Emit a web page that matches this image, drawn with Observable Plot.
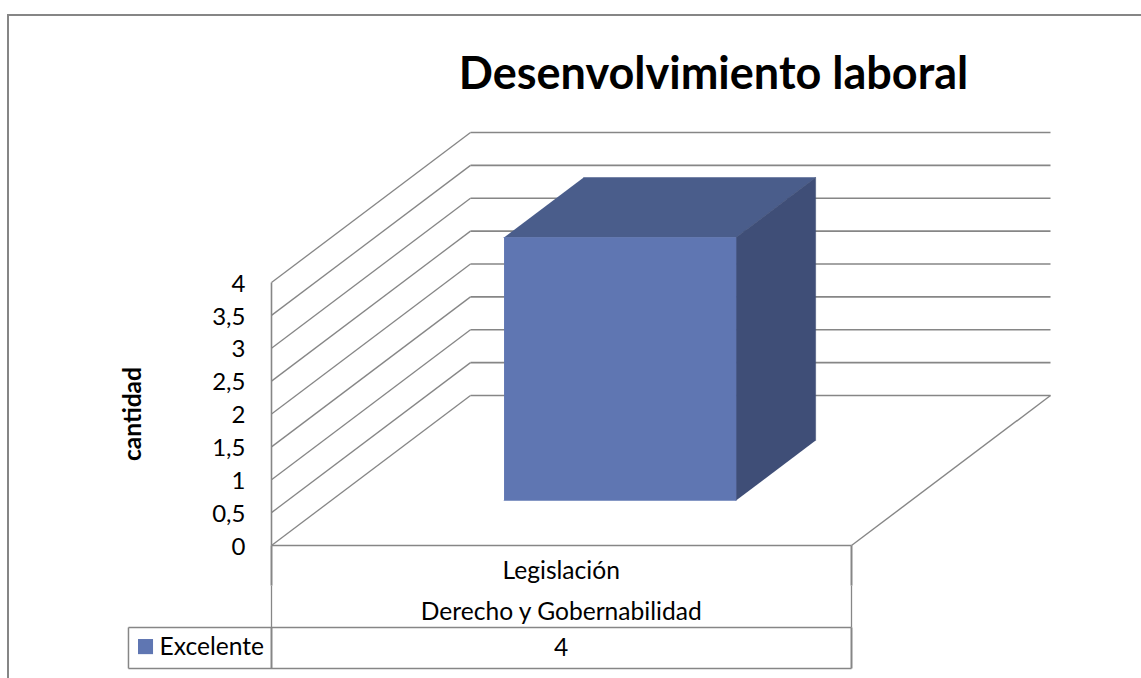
<!DOCTYPE html>
<html lang="es">
<head>
<meta charset="utf-8">
<script src="https://cdn.jsdelivr.net/npm/d3@7"></script>
<script src="https://cdn.jsdelivr.net/npm/@observablehq/plot@0.6"></script>
<style>
  html, body { margin: 0; padding: 0; background: #fff; overflow: hidden; }
  #wrap { position: relative; width: 1141px; height: 678px; overflow: hidden; }
  #frame { position: absolute; left: 7px; top: 14px; right: -4px; bottom: -4px; border: 2px solid #868686; }
  #chart { position: absolute; left: 0; top: 0; }
  #chart svg { display: block; max-width: none; background: transparent; }
</style>
</head>
<body>
<div id="wrap"><div id="frame"></div><div id="chart"></div></div>
<script>
// ---- data ----
const chartTitle = "Desenvolvimiento laboral";
const yAxisTitle = "cantidad";
const categories = ["Legislación"];
const groups = ["Derecho y Gobernabilidad"];
const seriesName = "Excelente";
const seriesValues = [4];
const yTicks = [0, 0.5, 1, 1.5, 2, 2.5, 3, 3.5, 4];
const yTickLabels = ["0", "0,5", "1", "1,5", "2", "2,5", "3", "3,5", "4"];

// ---- oblique projection of the 3D box, in data units ----
const depthX = 199 / 580;
const depthY = 150 / 65.75;
const P = (x, y, z = 0) => ({x: x + z * depthX, y: y + z * depthY});

const bar = {x0: 0.298, x1: 0.698, z0: 0.3, z1: 0.7, v: seriesValues[0]};
const face = (fill, pts) => Plot.line(pts.map(p => P(...p)), {x: "x", y: "y", fill, stroke: fill, strokeWidth: 0.5});

const lineColor = "#868686";
const seg = (a, b, w = 1.3) =>
  Plot.link([0], {x1: () => a.x, y1: () => a.y, x2: () => b.x, y2: () => b.y, stroke: lineColor, strokeWidth: w});

// table rows sit below the zero line, expressed on the same scales
const rowSplit = -1.247, rowBottom = -1.87, midCell = -0.61, legendLeft = -0.2466;
const font = "Lato, Carlito, sans-serif";

const plot = Plot.plot({
  width: 1141, height: 678,
  marginLeft: 271, marginRight: 290, marginTop: 282, marginBottom: 133,
  style: {fontFamily: font, color: "#000", background: "transparent", overflow: "visible"},
  x: {domain: [0, 1], axis: null},
  y: {domain: [0, 4]},
  marks: [
    // side and back wall gridlines
    Plot.link(yTicks, {x1: () => P(0, 0).x, y1: d => d, x2: () => P(0, 0, 1).x, y2: d => P(0, d, 1).y, stroke: lineColor, strokeWidth: 1.3}),
    Plot.link(yTicks, {x1: () => P(0, 0, 1).x, y1: d => P(0, d, 1).y, x2: () => P(1, 0, 1).x, y2: d => P(0, d, 1).y, stroke: lineColor, strokeWidth: 1.6}),
    // floor edges
    seg(P(1, 0, 0), P(1, 0, 1), 1.4),
    seg(P(0, 0, 0), P(1, 0, 0), 1.6),
    seg(P(0, 0, 0), P(0, 4, 0), 1.6),
    // bar
    face("#4A5D8B", [[bar.x0, bar.v, bar.z0], [bar.x1, bar.v, bar.z0], [bar.x1, bar.v, bar.z1], [bar.x0, bar.v, bar.z1]]),
    face("#3F4E77", [[bar.x1, 0, bar.z0], [bar.x1, bar.v, bar.z0], [bar.x1, bar.v, bar.z1], [bar.x1, 0, bar.z1]]),
    face("#5F76B2", [[bar.x0, 0, bar.z0], [bar.x1, 0, bar.z0], [bar.x1, bar.v, bar.z0], [bar.x0, bar.v, bar.z0]]),
    // data table
    seg(P(0, 0), P(0, midCell), 2),
    seg(P(0, midCell), P(0, rowSplit), 1.3),
    seg(P(0, rowSplit), P(0, rowBottom), 2),
    seg(P(1, 0), P(1, midCell), 2),
    seg(P(1, midCell), P(1, rowSplit), 1.3),
    seg(P(1, rowSplit), P(1, rowBottom), 2),
    seg(P(legendLeft, rowSplit), P(1, rowSplit), 1.5),
    seg(P(legendLeft, rowBottom), P(1, rowBottom), 1.6),
    seg(P(legendLeft, rowSplit), P(legendLeft, rowBottom), 1.5),
    Plot.rect([seriesName], {x1: () => -0.2293, x2: () => -0.2034, y1: () => -1.43, y2: () => -1.66, fill: "#5F76B2"}),
    Plot.text(categories, {x: () => 0.4995, y: () => -0.385, text: d => d, fontSize: 24.6}),
    Plot.text(groups, {x: () => 0.4995, y: () => -1.01, text: d => d, fontSize: 24.6}),
    Plot.text(seriesValues, {x: () => 0.4995, y: () => -1.555, text: d => String(d), fontSize: 24.6}),
    Plot.text([seriesName], {x: () => -0.193, y: () => -1.54, text: d => d, textAnchor: "start", fontSize: 24.6}),
    // y axis
    Plot.axisY(yTicks, {
      anchor: "left", tickSize: 0, tickPadding: 26, fontSize: 24, label: null, dy: 1.5,
      tickFormat: d => yTickLabels[yTicks.indexOf(d)]
    }),
    Plot.text([yAxisTitle], {x: () => -0.238, y: () => 2.0, text: d => d, rotate: -90, fontWeight: 700, fontSize: 24.5}),
    // title
    Plot.text([chartTitle], {x: () => 0.762, y: () => 7.167, text: d => d, fontWeight: 700, fontSize: 45})
  ]
});
document.getElementById("chart").appendChild(plot);
</script>
</body>
</html>
